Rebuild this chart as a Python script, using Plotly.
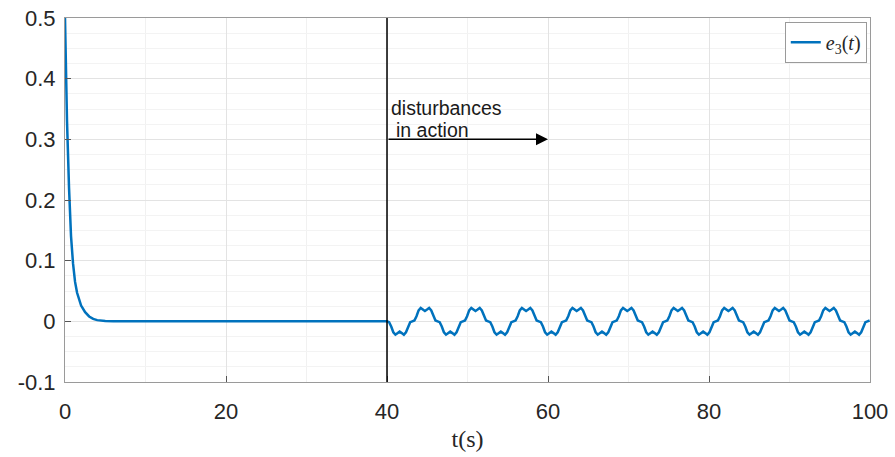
import numpy as np
import plotly.graph_objects as go

# ---------------- data ----------------
# initial transient
t_init = [0.0, 0.1, 0.25, 0.5, 0.75, 1.0, 1.25, 1.5, 2.0, 2.5, 3.0, 3.5, 4.0, 5.0, 6.0, 40.0]
e_init = [0.5, 0.42, 0.33, 0.22, 0.14, 0.095, 0.065, 0.047, 0.026, 0.015, 0.008, 0.004, 0.002, 0.0005, 0.0, 0.0]

# disturbed part: samples every 0.2618 s starting at t = 40 (values x 1e-3)
dist_start = 40.0
dist_step = 0.2618
e_dist_milli = [
    0, -1.4, -8.5, -18, -22, -19.4, -17, -19.4, -22, -18, -8.5, -1.4, 0, 1.4, 8.5, 18, 22, 19.4, 17, 19.4, 22, 18, 8.5, 1.4,
    0, -1.4, -8.5, -18, -22, -19.4, -17, -19.4, -22, -18, -8.5, -1.4, 0, 1.4, 8.5, 18, 22, 19.4, 17, 19.4, 22, 18, 8.5, 1.4,
    0, -1.4, -8.5, -18, -22, -19.4, -17, -19.4, -22, -18, -8.5, -1.4, 0, 1.4, 8.5, 18, 22, 19.4, 17, 19.4, 22, 18, 8.5, 1.4,
    0, -1.4, -8.5, -18, -22, -19.4, -17, -19.4, -22, -18, -8.5, -1.4, 0, 1.4, 8.5, 18, 22, 19.4, 17, 19.4, 22, 18, 8.5, 1.4,
    0, -1.4, -8.5, -18, -22, -19.4, -17, -19.4, -22, -18, -8.5, -1.4, 0, 1.4, 8.5, 18, 22, 19.4, 17, 19.4, 22, 18, 8.5, 1.4,
    0, -1.4, -8.5, -18, -22, -19.4, -17, -19.4, -22, -18, -8.5, -1.4, 0, 1.4, 8.5, 18, 22, 19.4, 17, 19.4, 22, 18, 8.5, 1.4,
    0, -1.4, -8.5, -18, -22, -19.4, -17, -19.4, -22, -18, -8.5, -1.4, 0, 1.4, 8.5, 18, 22, 19.4, 17, 19.4, 22, 18, 8.5, 1.4,
    0, -1.4, -8.5, -18, -22, -19.4, -17, -19.4, -22, -18, -8.5, -1.4, 0, 1.4, 8.5, 18, 22, 19.4, 17, 19.4, 22, 18, 8.5, 1.4,
    0, -1.4, -8.5, -18, -22, -19.4, -17, -19.4, -22, -18, -8.5, -1.4, 0, 1.4, 8.5, 18, 22, 19.4, 17, 19.4, 22, 18, 8.5, 1.4,
    0, -1.4, -8.5, -18, -22, -19.4, -17, -19.4, -22, -18, -8.5, -1.4, 0, 1.4,
]

x_tickvals = [0, 20, 40, 60, 80, 100]
x_ticktext = ["0", "20", "40", "60", "80", "100"]
y_tickvals = [-0.1, 0.0, 0.1, 0.2, 0.3, 0.4, 0.5]
y_ticktext = ["-0.1", "0", "0.1", "0.2", "0.3", "0.4", "0.5"]

arrow_end = 60.0
arrow_level = 0.3

# ---------------- build ----------------
t_dist = dist_start + dist_step * np.arange(len(e_dist_milli))
e_dist = np.array(e_dist_milli) / 1000.0
t_all = np.concatenate([np.array(t_init), t_dist[1:]])
e_all = np.concatenate([np.array(e_init), e_dist[1:]])

fig = go.Figure()
fig.add_trace(go.Scatter(
    x=t_all, y=e_all, mode="lines",
    line=dict(color="#0072BD", width=2.5),
    name="<i>e</i><sub>3</sub>(<i>t</i>)",
))

tickfont = dict(family="Liberation Sans, Arial, sans-serif", size=22, color="#262626")
fig.update_layout(
    width=895, height=457,
    margin=dict(l=65, r=25, t=18, b=75),
    paper_bgcolor="white", plot_bgcolor="white",
    showlegend=True,
    legend=dict(
        x=0.996, y=0.99, xanchor="right", yanchor="top",
        bgcolor="white", bordercolor="#9a9a9a", borderwidth=1,
        font=dict(family="Liberation Serif, Times New Roman, serif", size=20, color="#262626"),
        itemwidth=30, tracegroupgap=0,
    ),
    xaxis=dict(
        range=[0, 100], tickvals=x_tickvals, ticktext=x_ticktext,
        ticks="inside", ticklen=6, tickcolor="#555555",
        showline=True, mirror=True, linecolor="#9a9a9a", linewidth=1,
        showgrid=True, gridcolor="#e3e3e3", zeroline=False,
        minor=dict(dtick=10, showgrid=True, gridcolor="#f1f1f1", ticks=""),
        tickfont=tickfont, ticklabelstandoff=10, automargin=False,
        ticklabeloverflow="allow",
        title=dict(text="t(s)", font=dict(family="Liberation Serif, Times New Roman, serif", size=24, color="#262626"), standoff=6),
    ),
    yaxis=dict(
        range=[-0.1, 0.5], tickvals=y_tickvals, ticktext=y_ticktext,
        ticks="inside", ticklen=6, tickcolor="#555555",
        showline=True, mirror=True, linecolor="#9a9a9a", linewidth=1,
        showgrid=True, gridcolor="#e3e3e3", zeroline=False,
        minor=dict(dtick=0.025, showgrid=True, gridcolor="#f3f3f3", ticks=""),
        tickfont=tickfont, ticklabelstandoff=4, automargin=False,
        ticklabeloverflow="allow",
    ),
)

# vertical line marking disturbance onset
fig.add_shape(type="line", xref="x", yref="y", x0=dist_start, x1=dist_start, y0=-0.1, y1=0.5,
              line=dict(color="black", width=1.5))

# arrow
fig.add_annotation(x=arrow_end, y=arrow_level, ax=dist_start, ay=arrow_level, xref="x", yref="y",
                   axref="x", ayref="y", text="", showarrow=True, arrowhead=2, arrowsize=1.6,
                   arrowwidth=1.5, arrowcolor="black")

textfont = dict(family="Liberation Sans, Arial, sans-serif", size=19.5, color="#1a1a1a")
fig.add_annotation(x=dist_start + 0.2, y=0.352, xref="x", yref="y", text="disturbances",
                   showarrow=False, xanchor="left", yanchor="middle", font=textfont)
fig.add_annotation(x=dist_start + 0.9, y=0.3155, xref="x", yref="y", text="in action",
                   showarrow=False, xanchor="left", yanchor="middle", font=textfont)

fig.write_html("out.html", config={"displayModeBar": False},
               post_script="document.body.style.margin='0';")
